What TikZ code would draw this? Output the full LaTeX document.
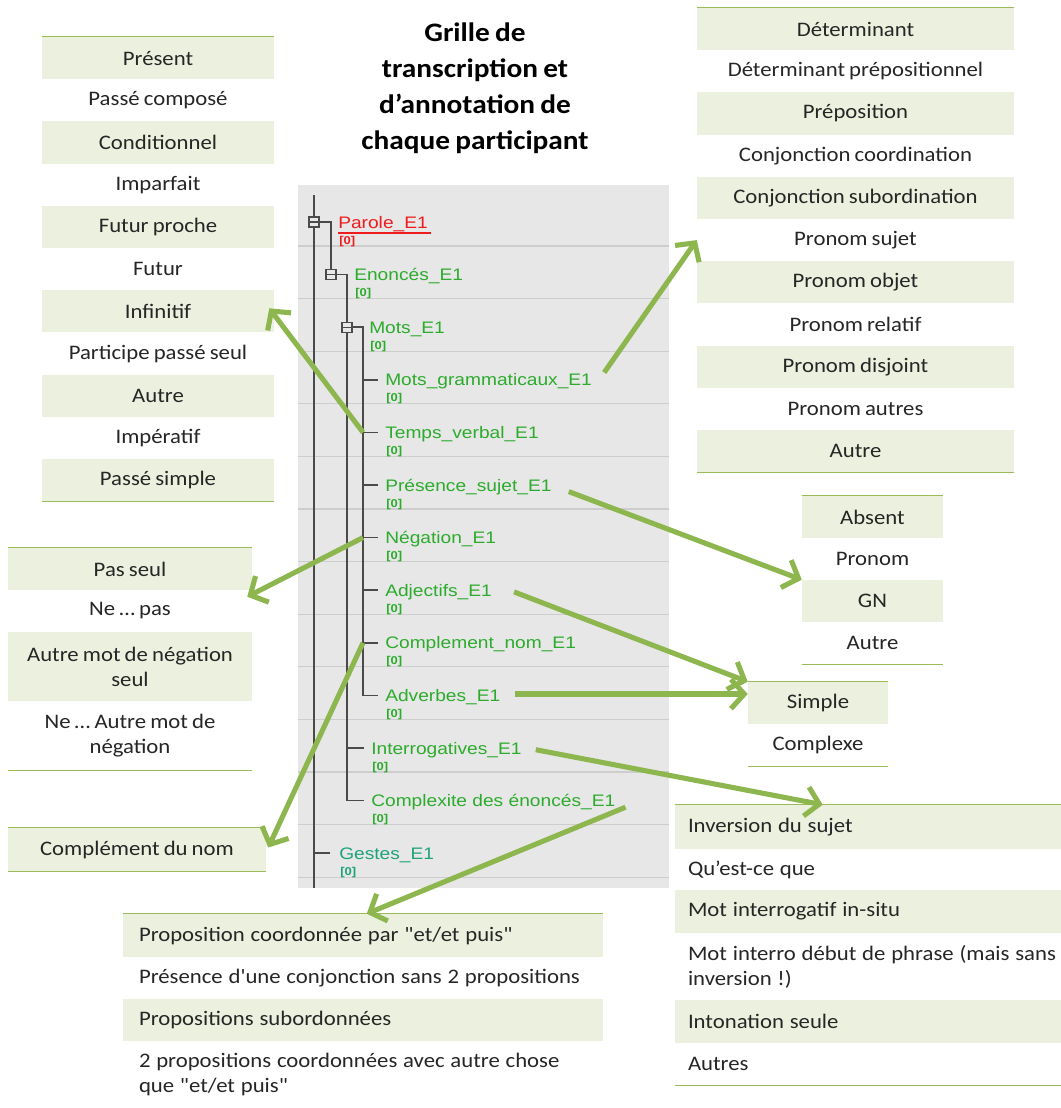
\documentclass[tikz,border=0pt]{standalone}
\usepackage{fontspec}
\newfontfamily\calfont{Carlito}[FakeStretch=1.1, WordSpace=0.8]
\newfontfamily\treefont{Liberation Sans}[FakeStretch=1.15]
\usetikzlibrary{arrows.meta,calc}

\definecolor{rowfill}{HTML}{EBF1DE}
\definecolor{rulegreen}{HTML}{9BBB59}
\definecolor{arrowgreen}{HTML}{8DB64F}
\definecolor{panel}{HTML}{E7E7E7}
\definecolor{sepgrey}{HTML}{CDCDCD}
\definecolor{treeline}{HTML}{4A4A4A}
\definecolor{labgreen}{HTML}{2CAB2C}
\definecolor{labteal}{HTML}{1EA27A}
\definecolor{labred}{HTML}{EE1C1C}
\definecolor{ink}{HTML}{262626}

% narrower interword space for left-aligned table rows
\newcommand\rowspacing{\spaceskip 0.28em\relax}

\tikzset{
  cellfont/.style={font=\calfont\fontsize{15.5}{18.75}\selectfont},
  cell/.style={cellfont, inner sep=0pt, text=ink, align=center},
  lcell/.style={cellfont, inner ysep=0pt, inner xsep=#1, text=ink, align=left},
  tabrule/.style={draw=rulegreen, line width=1.1pt},
  tlab/.style={anchor=base west, inner sep=0pt, font=\treefont\fontsize{12.5}{14}\selectfont},
  tcount/.style={anchor=base west, inner sep=0pt, font=\treefont\bfseries\fontsize{8.5}{9}\selectfont},
  tline/.style={draw=treeline, line width=1.1pt},
  tbox/.style={draw=treeline, fill=panel, line width=0.9pt, minimum size=7.5pt, inner sep=0pt},
  gridline/.style={draw=sepgrey, line width=0.8pt},
  garrow/.style={draw=arrowgreen, line width=3.8pt, -{Straight Barb[length=10pt,width=22pt]}},
}

% centred table: prefix, centre x, top y, row height, width, rows
\newcommand\centretable[6]{%
  \foreach \t [count=\i] in {#6} {%
    \ifodd\i \def\rf{rowfill}\else\def\rf{none}\fi
    \node[cell, fill=\rf, minimum width=#5, minimum height=#4*0.75pt]
      (#1-\i) at (#2,{#3+#4*(\i-0.5)}) {\t};
  }%
}

\begin{document}
\begin{tikzpicture}[x=0.75pt,y=-0.75pt]
\useasboundingbox (0,0) rectangle (1061,1108);
\fill[white] (0,0) rectangle (1061,1108);

% ---------- title ----------
\node[font=\calfont\bfseries\fontsize{20}{27}\selectfont, align=center, inner sep=0pt, text=black]
  (title) at (475,88) {Grille de\\transcription et\\d’annotation de\\chaque participant};

% ---------- tree panel ----------
\fill[panel] (298,185) rectangle (669,888);
\foreach \k in {0,...,12} \draw[gridline] (298,{246+52.6*\k}) -- (669,{246+52.6*\k});

\coordinate (trunk-top) at (314,195);
\coordinate (trunk-bot) at (314,888);
\coordinate (b0) at (314,222);
\coordinate (b1) at (331,274.6);
\coordinate (b2) at (347,327.2);

\node[tlab, text=labred] (parole) at (338,228) {Parole\_E1};
\node[tlab, text=labgreen] (enonces) at (354,280.6) {Enoncés\_E1};
\node[tlab, text=labgreen] (mots) at (369,333.2) {Mots\_E1};

\foreach \nm/\tx/\r in {motsg/Mots\_grammaticaux\_E1/3, temps/Temps\_verbal\_E1/4,
    presence/Présence\_sujet\_E1/5, negation/Négation\_E1/6, adjectifs/Adjectifs\_E1/7,
    compnom/Complement\_nom\_E1/8, adverbes/Adverbes\_E1/9} {
  \pgfmathsetmacro\yc{222+52.6*\r}
  \node[tlab, text=labgreen] (\nm) at (385,{\yc+6}) {\tx};
  \node[tcount, text=labgreen] (c-\nm) at (386,{\yc+22}) {[0]};
  \coordinate (j-\nm) at (363,\yc);
  \coordinate (k-\nm) at (378,\yc);
}
\node[tlab, text=labgreen] (interro) at (371,754) {Interrogatives\_E1};
\node[tlab, text=labgreen] (complexite) at (371,806.6) {Complexite des énoncés\_E1};
\node[tlab, text=labteal] (gestes) at (339,859.2) {Gestes\_E1};
\coordinate (k-interro) at (364,748);
\coordinate (k-complexite) at (364,800.6);
\coordinate (k-gestes) at (330,853.2);

\node[tcount, text=labred] (c-parole) at (339,244) {[0]};
\node[tcount, text=labgreen] (c-enonces) at (355,296.6) {[0]};
\node[tcount, text=labgreen] (c-mots) at (370,349.2) {[0]};
\node[tcount, text=labgreen] (c-interro) at (372,770) {[0]};
\node[tcount, text=labgreen] (c-complexite) at (372,822.6) {[0]};
\node[tcount, text=labteal] (c-gestes) at (340,875.2) {[0]};

\draw[labred, line width=1.1pt] ($(parole.base west)+(0,5)$) -- ($(parole.base east)+(3,5)$);

% tree connectors
\draw[tline] (trunk-top) -- (trunk-bot);
\draw[tline] (b0) -| (b1);
\draw[tline] (b1) -| (k-complexite -| b2) -- (k-complexite);
\draw[tline] (b2) -| (j-adverbes) -- (k-adverbes);
\foreach \nm in {motsg,temps,presence,negation,adjectifs,compnom}
  \draw[tline] (j-\nm) -- (k-\nm);
\draw[tline] (k-interro -| b2) -- (k-interro);
\draw[tline] (k-gestes -| trunk-top) -- (k-gestes);

\foreach \b in {0,1,2} {
  \node[tbox] (bx\b) at (b\b) {};
  \draw[treeline, line width=0.9pt] ($(bx\b.west)+(2,0)$) -- (bx\b.east);
}

% ---------- tables ----------
\centretable{tense}{158}{37}{42.2}{174pt}{Présent, Passé composé, Conditionnel, Imparfait,
  Futur proche, Futur, Infinitif, Participe passé seul, Autre, Impératif, Passé simple}
\draw[tabrule] (tense-1.north west) -- (tense-1.north east);
\draw[tabrule] (tense-11.south west) -- (tense-11.south east);

\centretable{det}{855.5}{8}{42.2}{237.75pt}{Déterminant, Déterminant prépositionnel,
  Préposition, Conjonction coordination, Conjonction subordination, Pronom sujet,
  Pronom objet, Pronom relatif, Pronom disjoint, Pronom autres, Autre}
\draw[tabrule] (det-1.north west) -- (det-1.north east);
\draw[tabrule] (det-11.south west) -- (det-11.south east);

\centretable{ab}{872.5}{496}{42}{105.75pt}{Absent, Pronom, GN, Autre}
\draw[tabrule] (ab-1.north west) -- (ab-1.north east);
\draw[tabrule] (ab-4.south west) -- (ab-4.south east);

\centretable{sc}{818}{682}{42}{105pt}{Simple, Complexe}
\draw[tabrule] (sc-1.north west) -- (sc-1.north east);
\draw[tabrule] (sc-2.south west) -- (sc-2.south east);

% negation
\node[cell, fill=rowfill, minimum width=183pt, minimum height=31.5pt] (neg-1) at (130,569) {Pas seul};
\node[cell, minimum width=183pt, minimum height=31.5pt] (neg-2) at (130,611) {Ne … pas};
\node[cell, fill=rowfill, minimum width=183pt, minimum height=51.75pt] (neg-3) at (130,666.5) {Autre mot de négation\\seul};
\node[cell, minimum width=183pt, minimum height=51.75pt] (neg-4) at (130,735.5) {Ne … Autre mot de\\négation};
\draw[tabrule] (neg-1.north west) -- (neg-1.north east);
\draw[tabrule] (neg-4.south west) -- (neg-4.south east);

% noun complement
\node[cell, fill=rowfill, minimum width=193.5pt, minimum height=32.25pt] (cdn) at (137,849.5) {Complément du nom};
\draw[tabrule] (cdn.north west) -- (cdn.north east);
\draw[tabrule] (cdn.south west) -- (cdn.south east);

% sentence complexity
\node[lcell=12pt, text width=336pt, fill=rowfill, minimum height=32.25pt] (prop-1) at (363,935.5)
  {\rowspacing\mbox{Proposition coordonnée par "et/et puis"}};
\node[lcell=12pt, text width=336pt, minimum height=31.5pt] (prop-2) at (363,978)
  {\rowspacing\mbox{Présence d'une conjonction sans 2 propositions}};
\node[lcell=12pt, text width=336pt, fill=rowfill, minimum height=31.5pt] (prop-3) at (363,1020)
  {\rowspacing\mbox{Propositions subordonnées}};
\node[lcell=12pt, text width=336pt, minimum height=50.25pt] (prop-4) at (363,1074.5)
  {\rowspacing\mbox{2 propositions coordonnées avec autre chose}\\\mbox{que "et/et puis"}};
\draw[tabrule] (prop-1.north west) -- (prop-1.north east);

% interrogatives
\node[lcell=9.75pt, text width=284.25pt, fill=rowfill, minimum height=33pt] (inv-1) at (877.5,827)
  {\rowspacing\mbox{Inversion du sujet}};
\node[lcell=9.75pt, text width=284.25pt, minimum height=30.75pt] (inv-2) at (877.5,869.5)
  {\rowspacing\mbox{Qu’est-ce que}};
\node[lcell=9.75pt, text width=284.25pt, fill=rowfill, minimum height=32.25pt] (inv-3) at (877.5,911.5)
  {\rowspacing\mbox{Mot interrogatif in-situ}};
\node[lcell=9.75pt, text width=284.25pt, minimum height=50.25pt] (inv-4) at (877.5,966.5)
  {\rowspacing\mbox{Mot interro début de phrase (mais sans}\\\mbox{inversion !)}};
\node[lcell=9.75pt, text width=284.25pt, fill=rowfill, minimum height=32.25pt] (inv-5) at (877.5,1021.5)
  {\rowspacing\mbox{Intonation seule}};
\node[lcell=9.75pt, text width=284.25pt, minimum height=31.5pt] (inv-6) at (877.5,1064)
  {\rowspacing\mbox{Autres}};
\draw[tabrule] (inv-1.north west) -- (inv-1.north east);
\draw[tabrule] (inv-6.south west) -- (inv-6.south east);

% ---------- arrows ----------
\coordinate (adv-out) at ($(adverbes.east)+(14,-3)$);
\draw[garrow] (j-temps) -- ($(tense-7.east)+(-5,-3)$);
\draw[garrow] ($(motsg.east)+(12,-9)$) -- (det-6.west);
\draw[garrow] ($(presence.east)+(17,5)$) -- (ab-3.north west);
\draw[garrow] (j-negation) -- ($(neg-2.north east)+(-5,7)$);
\draw[garrow] ($(adjectifs.east)+(22,0)$) -- (sc-1.north west);
\draw[garrow] (j-compnom) -- ($(cdn.east)+(2,-2)$);
\draw[garrow] (adv-out) -- (adv-out -| sc-1.west);
\draw[garrow] ($(interro.east)+(14,0)$) -- ($(inv-1.north west)+(148,0)$);
\draw[garrow] ($(complexite.east)+(10,5)$) -- ($(prop-1.north west)+(244,0)$);
\end{tikzpicture}
\end{document}
